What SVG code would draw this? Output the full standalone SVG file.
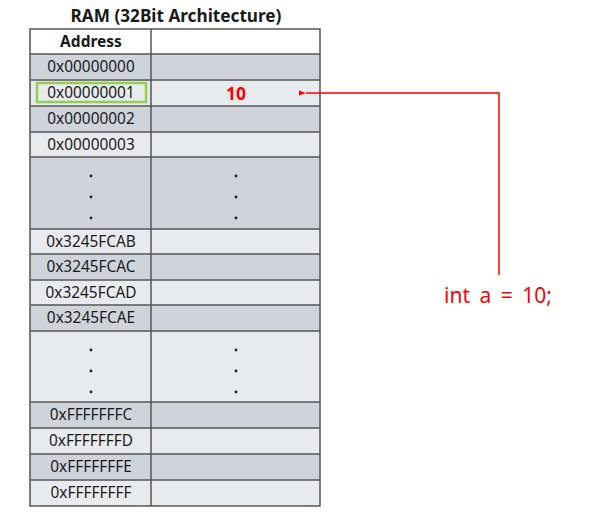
<svg xmlns="http://www.w3.org/2000/svg" width="590" height="529" viewBox="0 0 590 529">
<defs>
<style>
.t{font-family:"Noto Sans","Open Sans","DejaVu Sans",sans-serif;font-size:15.4px;fill:#1a1a1a;text-anchor:middle}
.h{font-weight:bold}
.d{fill:#cfd4db}
.l{fill:#e8ebee}
.b{stroke:#555;stroke-width:1.5;fill:none}
.dot{fill:#222}
</style>
<marker id="ah" markerWidth="8" markerHeight="8" refX="1" refY="4" orient="auto" markerUnits="userSpaceOnUse">
<path d="M8,1.5 L1,4 L8,6.5 Z" fill="#ff0000"/>
</marker>
</defs>
<rect width="590" height="529" fill="#fff"/>
<text x="176" y="22" class="t h" style="font-size:17.2px">RAM (32Bit Architecture)</text>
<g id="table">
<rect x="30" y="29" width="290" height="25" fill="#fff"/>
<rect x="30" y="54" width="290" height="26" class="d"/>
<rect x="30" y="80" width="290" height="26" class="l"/>
<rect x="30" y="106" width="290" height="26" class="d"/>
<rect x="30" y="132" width="290" height="25" class="l"/>
<rect x="30" y="157" width="290" height="72" class="d"/>
<rect x="30" y="229" width="290" height="25" class="l"/>
<rect x="30" y="254" width="290" height="26" class="d"/>
<rect x="30" y="280" width="290" height="25" class="l"/>
<rect x="30" y="305" width="290" height="26" class="d"/>
<rect x="30" y="331" width="290" height="71" class="l"/>
<rect x="30" y="402" width="290" height="26" class="d"/>
<rect x="30" y="428" width="290" height="26" class="l"/>
<rect x="30" y="454" width="290" height="26" class="d"/>
<rect x="30" y="480" width="290" height="26" class="l"/>
<path class="b" d="M30,29H320V506H30Z M151,29V506 M30,54H320 M30,80H320 M30,106H320 M30,132H320 M30,157H320 M30,229H320 M30,254H320 M30,280H320 M30,305H320 M30,331H320 M30,402H320 M30,428H320 M30,454H320 M30,480H320"/>
</g>
<g id="header"><text x="91" y="47" class="t h" style="font-size:15.5px">Address</text></g>
<g id="row0"><text x="91" y="72" class="t">0x00000000</text></g>
<g id="row1">
<rect x="37" y="83" width="109" height="19" fill="none" stroke="#92d050" stroke-width="2.5"/>
<text x="91" y="98" class="t">0x00000001</text>
<text x="236" y="100" class="t h" style="fill:#ff0000;font-size:17.5px">10</text>
</g>
<g id="row2"><text x="91" y="124" class="t">0x00000002</text></g>
<g id="row3"><text x="91" y="150" class="t">0x00000003</text></g>
<g id="dots1">
<circle cx="91" cy="176" r="1.4" class="dot"/><circle cx="91" cy="197" r="1.4" class="dot"/><circle cx="91" cy="218" r="1.4" class="dot"/>
<circle cx="236" cy="176" r="1.4" class="dot"/><circle cx="236" cy="197" r="1.4" class="dot"/><circle cx="236" cy="218" r="1.4" class="dot"/>
</g>
<g id="row4"><text x="91" y="247" class="t">0x3245FCAB</text></g>
<g id="row5"><text x="91" y="272" class="t">0x3245FCAC</text></g>
<g id="row6"><text x="91" y="298" class="t">0x3245FCAD</text></g>
<g id="row7"><text x="91" y="323" class="t">0x3245FCAE</text></g>
<g id="dots2">
<circle cx="91" cy="350" r="1.4" class="dot"/><circle cx="91" cy="371" r="1.4" class="dot"/><circle cx="91" cy="392" r="1.4" class="dot"/>
<circle cx="236" cy="350" r="1.4" class="dot"/><circle cx="236" cy="371" r="1.4" class="dot"/><circle cx="236" cy="392" r="1.4" class="dot"/>
</g>
<g id="row8"><text x="91" y="420" class="t">0xFFFFFFFC</text></g>
<g id="row9"><text x="91" y="446" class="t">0xFFFFFFFD</text></g>
<g id="row10"><text x="91" y="472" class="t">0xFFFFFFFE</text></g>
<g id="row11"><text x="91" y="498" class="t">0xFFFFFFFF</text></g>
<g id="connectors">
<path d="M499,275V93H306" fill="none" stroke="#ff0000" stroke-width="1.5" marker-end="url(#ah)"/>
</g>
<g id="code"><text x="498" y="303" class="t" style="fill:#ff0000;font-size:21px;word-spacing:4px">int a = 10;</text></g>
</svg>
